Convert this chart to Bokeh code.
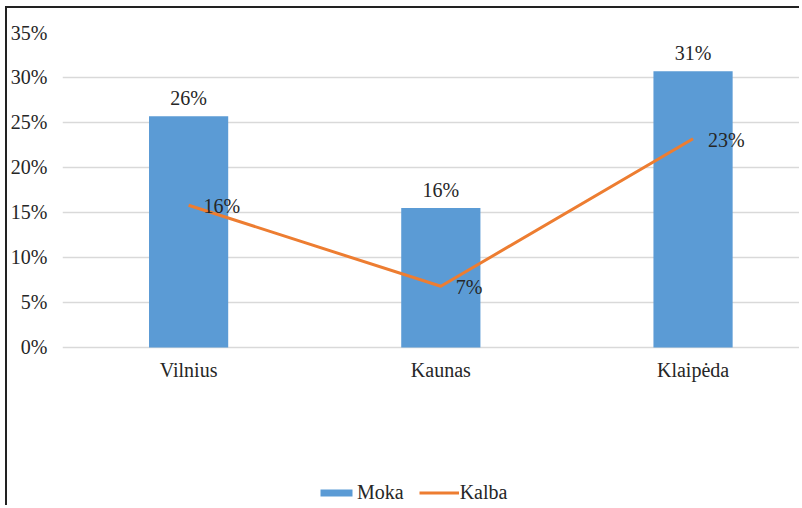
from bokeh.plotting import figure
from bokeh.models import Range1d, FixedTicker, ColumnDataSource, Legend, LegendItem
from bokeh.core.properties import value
from bokeh.embed import file_html
from bokeh.resources import INLINE

cities = ["Vilnius", "Kaunas", "Klaipėda"]
moka = [25.7, 15.5, 30.7]
kalba = [15.8, 6.8, 23.2]
y_ticks = [0, 5, 10, 15, 20, 25, 30, 35]
y_tick_labels = ["0%", "5%", "10%", "15%", "20%", "25%", "30%", "35%"]

FONT = "Liberation Serif"
FS = "20px"
TXT = "#262626"

xpos = [i + 0.5 for i in range(len(cities))]
src = ColumnDataSource(dict(
    x=xpos, zero=[0] * len(cities), city=cities, moka=moka, kalba=kalba,
    moka_lbl=[f"{v:.0f}%" for v in moka],
    kalba_lbl=[f"{v:.0f}%" for v in kalba],
))

p = figure(width=794, height=499, output_backend="svg", toolbar_location=None,
           x_axis_location=None,
           x_range=Range1d(0, 2.93), y_range=Range1d(-17.78, 35),
           min_border_left=55, min_border_right=0, min_border_top=24, min_border_bottom=0)
p.styles = {"border-left": "2px solid #222", "border-top": "2px solid #222",
            "margin-left": "5px", "margin-top": "6px"}
p.outline_line_color = None
p.background_fill_color = "white"
p.border_fill_color = "white"

bars = p.vbar(x="x", top="moka", width=0.314, source=src, fill_color="#5B9BD5", line_color=None)
line = p.line(x="x", y="kalba", source=src, line_color="#ED7D31", line_width=3)

p.text(x="x", y="moka", text="moka_lbl", source=src, text_align="center", text_baseline="middle",
       y_offset=-18, text_font=value(FONT), text_font_size=FS, text_color=TXT)
p.text(x="x", y="kalba", text="kalba_lbl", source=src, text_align="left", text_baseline="middle",
       x_offset=15, y_offset=1, text_font=value(FONT), text_font_size=FS, text_color=TXT)
# category labels (horizontal axis)
p.text(x="x", y="zero", text="city", source=src, text_align="center", text_baseline="middle",
       y_offset=23, text_font=value(FONT), text_font_size=FS, text_color=TXT)

p.xgrid.grid_line_color = None
p.ygrid.grid_line_color = "#d9d9d9"
p.ygrid.grid_line_width = 1.5
p.ygrid.ticker = FixedTicker(ticks=y_ticks)

p.yaxis.ticker = FixedTicker(ticks=y_ticks)
p.yaxis.major_label_overrides = {t: l for t, l in zip(y_ticks, y_tick_labels)}
p.yaxis.axis_line_color = None
p.yaxis.major_tick_line_color = None
p.yaxis.minor_tick_line_color = None
p.yaxis.major_label_standoff = 9
p.yaxis.major_label_text_font = FONT
p.yaxis.major_label_text_font_size = FS
p.yaxis.major_label_text_color = TXT

legend = Legend(items=[LegendItem(label="Moka", renderers=[bars]),
                       LegendItem(label="Kalba", renderers=[line])],
                orientation="horizontal", location=(254, 3),
                border_line_color=None, background_fill_alpha=0,
                padding=0, margin=0, spacing=15, label_standoff=1,
                glyph_width=40, glyph_height=9, label_height=20,
                label_text_font=FONT, label_text_font_size=FS, label_text_color=TXT)
p.add_layout(legend, "center")

open("out.html", "w").write(file_html(p, INLINE))
